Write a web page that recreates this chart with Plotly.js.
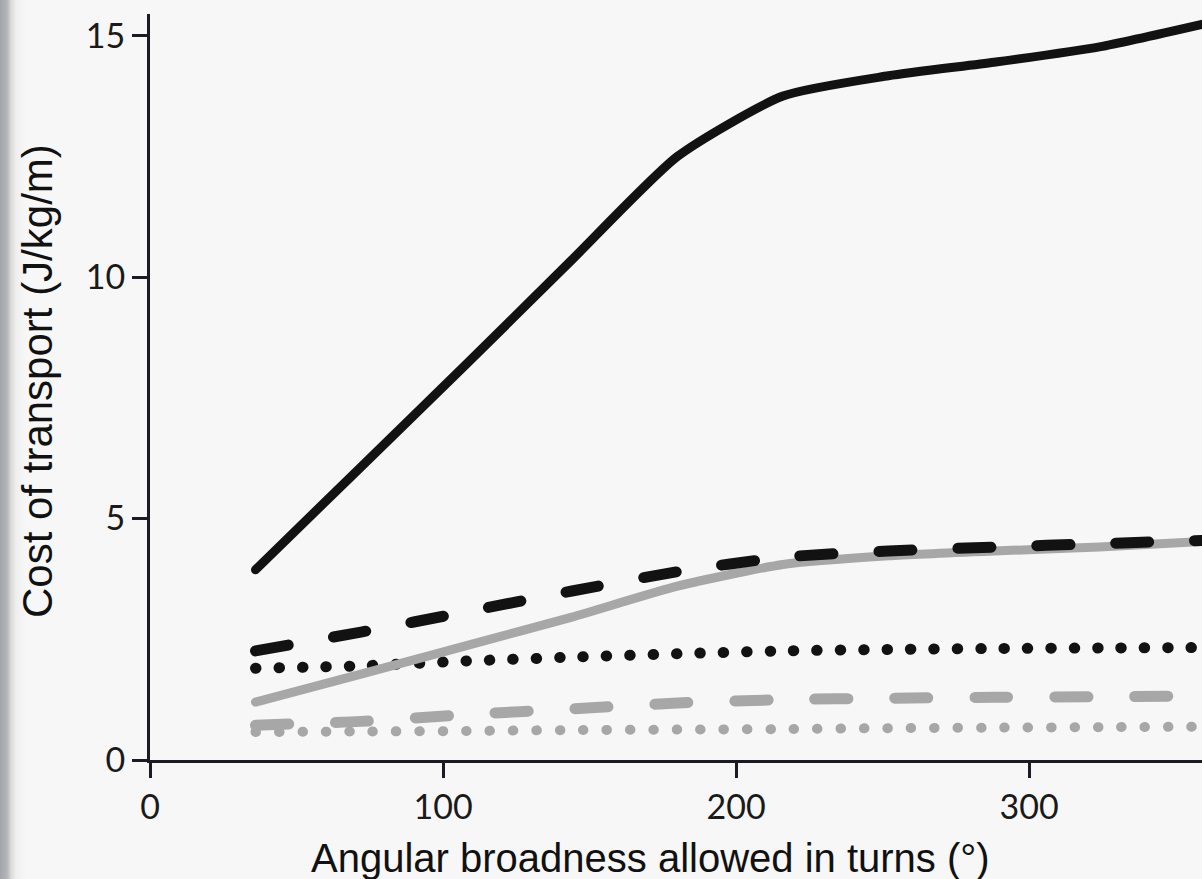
<!DOCTYPE html>
<html>
<head>
<meta charset="utf-8">
<script src="https://cdn.plot.ly/plotly-3.0.1.min.js"></script>
<style>
  html, body { margin: 0; padding: 0; }
  body {
    width: 1202px; height: 879px; overflow: hidden;
    background: linear-gradient(to right, #a4a4ac 0px, #b4b4ba 7px, #dadada 11px, #efefef 16px, #f7f7f7 26px);
  }
  #chart { width: 1202px; height: 879px; }
  /* rounded dash ends and dots */
  #chart .js-line { stroke-linecap: round !important; stroke-linejoin: round !important; }
</style>
</head>
<body>
<div id="chart"></div>
<script>
// Angular broadness allowed in turns (degrees)
const angles = [36, 72, 108, 144, 180, 216, 252, 288, 324, 360];

// Cost of transport (J/kg/m) for each configuration
const solidBlack  = [3.94, 6.07, 8.2, 10.36, 12.5, 13.75, 14.17, 14.45, 14.77, 15.25];
const dashedBlack = [2.26, 2.65, 3.07, 3.5, 3.9, 4.2, 4.33, 4.41, 4.48, 4.55];
const dottedBlack = [1.9, 1.95, 2.05, 2.13, 2.2, 2.26, 2.29, 2.31, 2.32, 2.33];
const solidGrey   = [1.2, 1.78, 2.37, 2.96, 3.6, 4.05, 4.23, 4.33, 4.41, 4.53];
const dashedGrey  = [0.72, 0.8, 0.94, 1.06, 1.18, 1.25, 1.28, 1.3, 1.31, 1.33];
const dottedGrey  = [0.58, 0.59, 0.6, 0.62, 0.63, 0.64, 0.66, 0.67, 0.68, 0.69];

const xTicks = [0, 100, 200, 300];
const yTicks = [0, 5, 10, 15];

const xTitle = 'Angular broadness allowed in turns (°)';
const yTitle = 'Cost of transport (J/kg/m)';

const BLACK = '#121212';
const GREY = '#a7a7a7';
const AXIS = '#1b1b26';

function series(y, color, width, dash) {
  return {
    x: angles, y: y, type: 'scatter', mode: 'lines',
    line: { color: color, width: width, dash: dash, shape: 'spline', smoothing: 0.6 },
    hoverinfo: 'skip', showlegend: false
  };
}

const traces = [
  series(dottedGrey, GREY, 10, '0.5px,22.9px'),
  series(dashedGrey, GREY, 11, '33px,47px'),
  series(dottedBlack, BLACK, 11, '0.5px,22.9px'),
  series(solidGrey, GREY, 9, 'solid'),
  series(dashedBlack, BLACK, 11, '33px,46px'),
  series(solidBlack, BLACK, 9, 'solid')
];

const tickFont = { family: 'Lato, "Open Sans", sans-serif', size: 34, color: '#1a1a1a' };
const titleFont = { family: '"Liberation Sans", Arial, sans-serif', size: 40, color: '#111111' };

const layout = {
  width: 1202, height: 879,
  margin: { l: 150, r: 0, t: 14, b: 119, pad: 0 },
  paper_bgcolor: 'rgba(0,0,0,0)',
  plot_bgcolor: 'rgba(0,0,0,0)',
  xaxis: {
    range: [0, 359], tickvals: xTicks, ticktext: xTicks.map(String),
    ticks: 'outside', ticklen: 15, tickwidth: 3, tickcolor: AXIS,
    showline: true, linewidth: 3, linecolor: AXIS,
    showgrid: false, zeroline: false, tickfont: tickFont,
    fixedrange: true
  },
  yaxis: {
    range: [0, 15.45], tickvals: yTicks, ticktext: yTicks.map(String),
    ticks: 'outside', ticklen: 15, tickwidth: 3, tickcolor: AXIS,
    showline: true, linewidth: 3, linecolor: AXIS,
    showgrid: false, zeroline: false, tickfont: tickFont,
    fixedrange: true
  },
  annotations: [
    {
      text: xTitle,
      xref: 'paper', yref: 'paper', x: 0.476, y: 0,
      xanchor: 'center', yanchor: 'top', yshift: -74,
      showarrow: false, font: titleFont
    },
    {
      text: yTitle, textangle: -90,
      xref: 'paper', yref: 'paper', x: 0, y: 0.5,
      xanchor: 'center', yanchor: 'middle', xshift: -113, yshift: 6,
      showarrow: false, font: { family: titleFont.family, size: 42, color: titleFont.color }
    }
  ]
};

Plotly.newPlot('chart', traces, layout, { displayModeBar: false, staticPlot: true });
</script>
</body>
</html>
